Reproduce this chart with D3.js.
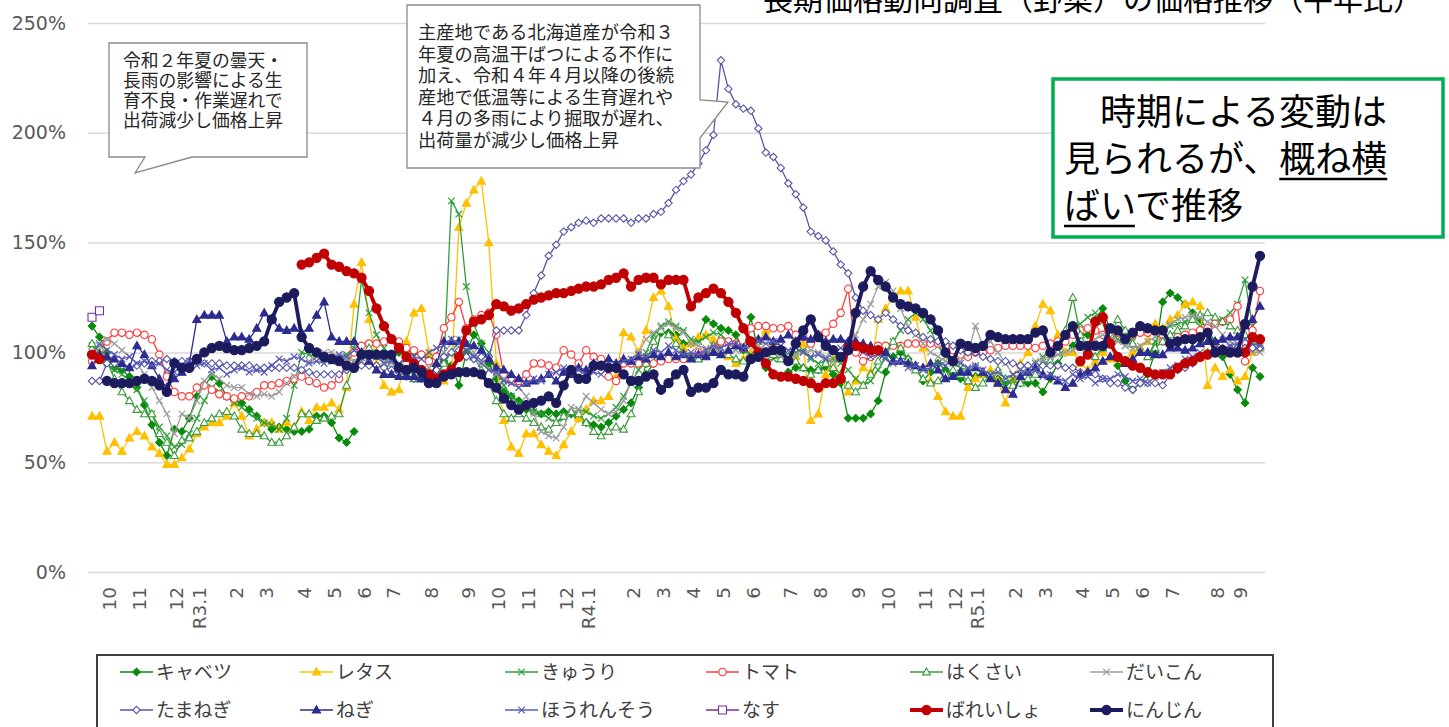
<!DOCTYPE html>
<html>
<head>
<meta charset="utf-8">
<title>長期価格動向調査（野菜）の価格推移</title>
<style>
body { margin: 0; background: #fff; }
text { font-family: "Noto Sans CJK JP", "Noto Sans", sans-serif; }
.yaxis text, .xaxis text { font-family: "DejaVu Sans", sans-serif; fill: #595959; }
</style>
</head>
<body>
<script src="https://cdn.jsdelivr.net/npm/d3@7"></script>
<script>

// ---- data (percent of normal year), one value per week ----
var monthLabels = ["10","11","12","R3.1","2","3","4","5","6","7","8","9",
                   "10","11","12","R4.1","2","3","4","5","6","7","8","9",
                   "10","11","12","R5.1","2","3","4","5","6","7","8","9"];
// week index at which each month label sits
var monthWeek = [2,6,11,14,19,23,28,32,36,40,45,50,54,58,63,66,72,76,80,84,88,93,97,102,
                 106,111,115,118,123,127,132,136,140,144,150,153];

var yTicks = [0, 50, 100, 150, 200, 250];

var cabbage = [
  112,107,100,93,92,89,84,76,67,59,
  53,65,64,70,80,85,89,86,80,78,
  77,74,71,68,65,66,65,64,64,65,
  71,71,68,61,59,64,null,null,null,null,
  null,100,101,100,99,97,98,96,94,85,
  100,108,104,95,88,82,80,78,74,73,
  72,73,72,73,72,70,68,67,66,68,
  71,74,77,84,90,95,109,109,108,104,
  104,106,115,113,111,110,108,101,116,100,
  93,90,89,91,93,93,92,92,93,90,
  86,70,70,70,72,78,91,98,100,97,
  93,87,91,95,92,90,88,86,89,90,
  89,88,86,87,86,86,86,82,88,95,
  100,103,108,108,115,120,110,94,87,83,
  86,90,100,123,127,125,122,118,115,110,
  105,98,90,83,77,93,89];

var lettuce = [
  71,71,55,59,55,61,64,62,57,54,
  49,49,52,56,63,66,68,68,71,77,
  71,62,65,68,68,65,68,66,73,69,
  75,75,77,74,84,122,141,115,95,85,
  82,83,105,118,120,100,88,87,90,157,
  168,174,178,150,95,69,57,54,63,63,
  58,55,53,58,64,70,74,78,78,80,
  89,109,107,100,110,125,128,121,106,102,
  104,107,108,106,100,98,95,97,100,105,
  110,104,100,96,98,104,69,72,90,97,
  88,82,87,93,91,115,120,125,128,128,
  116,102,87,80,73,71,71,84,88,90,
  92,87,77,88,95,100,112,122,119,108,
  100,100,95,92,96,100,97,97,95,100,
  102,105,113,111,115,117,122,123,121,85,
  93,89,92,87,89,100,102];

var cucumber = [
  103,99,95,92,90,87,83,78,72,66,
  62,57,58,63,70,78,84,82,80,77,
  75,72,70,68,67,65,70,85,100,99,
  98,97,96,97,99,102,133,118,108,102,
  97,93,91,90,88,87,88,95,169,163,
  130,113,104,100,92,85,80,77,75,73,
  72,70,68,70,72,74,73,71,70,72,
  75,80,86,92,100,108,112,114,112,110,
  106,105,107,109,108,105,103,101,99,98,
  96,97,98,99,100,101,97,95,96,97,
  95,92,88,85,87,92,98,105,110,115,
  118,115,110,103,98,95,93,92,93,90,
  88,86,85,88,90,92,95,98,100,104,
  106,110,113,116,118,114,110,106,103,105,
  100,98,105,110,112,113,114,115,112,110,
  113,115,118,122,133,112,102];

var tomato = [
  96,101,105,109,109,108,109,108,106,99,
  89,82,80,80,84,85,83,81,80,79,
  80,80,82,85,85,86,87,88,89,87,
  86,84,85,88,95,100,103,104,104,105,
  106,105,102,101,99,96,98,111,116,123,
  111,115,117,118,108,90,87,87,90,95,
  95,94,93,101,99,95,101,98,97,89,
  87,95,95,95,95,95,96,97,97,97,
  98,100,100,102,105,105,104,102,111,112,
  112,111,111,112,108,107,104,108,109,113,
  118,129,100,96,98,103,103,103,103,104,
  104,104,104,104,103,101,99,98,100,100,
  101,102,103,103,103,103,102,103,104,105,
  105,108,110,111,110,108,110,109,107,108,
  109,109,110,105,106,107,108,109,110,111,
  113,114,115,121,96,110,128];

var hakusai = [
  104,100,96,88,82,78,74,72,72,63,
  59,53,60,61,64,68,70,72,73,71,
  65,63,63,62,59,59,62,66,72,72,
  69,70,71,72,85,95,100,102,100,98,
  95,92,90,88,88,88,90,95,100,105,
  103,98,92,86,78,72,70,72,70,68,
  66,65,68,71,73,72,68,64,62,64,
  66,65,72,82,95,105,110,108,104,100,
  98,97,99,103,101,99,97,96,97,99,
  100,99,97,98,96,93,90,92,95,93,
  90,85,82,85,90,96,100,105,102,97,
  92,88,86,87,90,92,90,87,84,86,
  90,92,88,85,86,88,90,95,96,100,
  110,125,108,102,98,102,108,115,110,104,
  100,98,102,105,108,110,112,115,117,118,
  116,114,112,110,108,105,103];

var daikon = [
  100,103,106,104,101,98,95,90,84,78,
  72,63,72,70,78,87,90,88,85,84,
  84,81,80,81,80,82,86,89,92,96,
  98,100,100,98,97,96,96,97,98,96,
  95,94,93,92,92,93,96,100,104,106,
  104,100,96,92,90,88,86,84,80,72,
  64,62,61,66,75,74,80,77,74,72,
  73,78,87,100,106,109,111,113,111,109,
  104,103,102,101,100,100,101,103,104,103,
  101,100,98,97,99,100,101,100,98,96,
  98,102,108,115,122,130,132,128,120,112,
  108,104,100,98,96,95,96,100,112,103,
  105,100,95,90,88,92,96,97,98,99,
  100,101,102,104,106,108,107,105,103,102,
  103,105,107,110,113,115,116,117,116,114,
  112,108,105,103,101,100,100];

var onion = [
  87,87,95,95,94,93,94,95,96,96,
  97,96,96,96,96,95,95,95,94,94,
  94,94,93,93,93,93,93,93,92,91,
  90,90,90,90,92,93,94,94,94,93,
  92,91,89,88,88,90,92,98,100,101,
  98,97,98,98,110,110,110,110,117,127,
  135,144,149,155,157,159,160,159,161,161,
  161,161,159,161,161,163,164,168,174,178,
  181,186,192,199,233,220,213,211,210,202,
  191,189,184,177,172,166,155,153,151,146,
  140,136,125,119,117,115,118,115,112,110,
  109,107,106,105,105,103,101,100,100,98,
  97,96,96,95,94,94,94,94,94,94,
  93,93,91,91,90,88,86,86,84,83,
  86,86,86,85,90,92,93,95,98,100,
  101,102,102,102,102,102,102];

var negi = [
  94,99,98,97,95,93,103,99,94,88,
  84,88,91,95,115,117,117,117,105,107,
  107,106,111,118,115,111,110,111,109,111,
  117,123,107,105,105,105,100,96,92,90,
  90,89,89,89,88,88,95,105,105,105,
  104,103,101,97,93,92,90,88,86,87,
  88,90,87,91,90,93,92,95,94,97,
  95,97,96,98,97,99,98,100,98,99,
  97,99,98,100,99,101,103,102,105,106,
  107,105,106,108,105,107,106,108,105,106,
  106,105,105,104,103,101,100,96,96,95,
  94,93,95,92,88,89,91,91,93,91,
  88,86,83,81,89,91,93,90,89,87,
  84,86,90,91,93,96,98,98,95,97,
  100,100,99,99,102,102,101,102,104,105,
  105,106,107,107,112,115,121];

var spinach = [
  99,104,101,99,97,98,95,96,94,95,
  92,91,94,96,94,95,92,93,90,92,
  93,91,92,91,94,97,96,98,97,95,
  96,95,97,99,98,101,99,97,98,95,
  96,95,97,98,97,100,102,103,106,104,
  101,98,95,92,91,87,86,84,86,88,
  87,90,91,93,92,92,90,91,90,93,
  94,96,97,99,98,101,100,103,101,99,
  100,99,101,103,102,104,104,102,103,105,
  104,105,103,101,102,100,98,99,97,100,
  102,101,103,100,98,99,97,95,96,93,
  94,92,93,95,94,97,95,93,94,92,
  90,91,88,90,92,91,92,89,90,88,
  87,90,88,89,86,88,88,90,89,87,
  88,86,89,91,93,94,97,98,100,99,
  102,101,103,104,106,104,103];

var eggplant = [116, 119];

var potato = [
  99,97,null,null,null,null,null,null,null,null,
  null,null,null,null,null,null,null,null,null,null,
  null,null,null,null,null,null,null,null,140,141,
  143,145,140,139,137,136,134,128,120,112,
  106,102,98,95,92,90,88,90,92,98,
  110,114,115,117,122,121,119,120,122,124,
  125,126,127,127,128,129,130,130,131,133,
  134,136,130,133,134,134,131,133,133,133,
  121,125,127,129,127,123,118,111,105,100,
  95,90,89,89,88,87,86,84,86,86,
  88,102,103,102,101,101,null,null,null,null,
  null,null,null,null,null,null,null,null,null,null,
  null,null,null,null,null,null,null,null,null,null,
  null,null,96,99,114,116,104,98,96,94,
  93,91,90,90,90,93,95,96,98,99,
  100,101,100,100,100,107,106];

var carrot = [
  null,null,87,86,86,86,87,88,87,85,
  82,95,93,93,97,100,102,103,102,101,
  101,102,103,105,115,123,125,127,107,102,
  100,98,97,96,94,93,99,99,99,99,
  99,93,92,93,91,86,86,89,90,91,
  91,91,90,86,84,79,76,74,76,77,
  78,80,77,85,92,88,88,94,94,93,
  93,90,87,87,89,90,83,86,90,92,
  82,84,84,86,92,90,90,89,97,98,
  100,101,101,96,104,110,115,107,103,101,
  98,101,118,130,137,133,130,125,122,121,
  120,118,115,110,100,96,104,103,102,103,
  108,107,106,106,106,106,109,110,100,103,
  108,112,103,103,103,103,111,110,106,109,
  112,111,110,110,104,105,106,106,107,109,
  100,101,100,100,113,130,144];

var seriesNames = ["キャベツ","レタス","きゅうり","トマト","はくさい","だいこん",
                   "たまねぎ","ねぎ","ほうれんそう","なす","ばれいしょ","にんじん"];
var seriesValues = [cabbage, lettuce, cucumber, tomato, hakusai, daikon,
                    onion, negi, spinach, eggplant, potato, carrot];

// drawing style for each series
var styles = [
  {color:"#0a8a0a", mk:"diamond",  open:false, r:3.8, w:1.3},
  {color:"#ffc000", mk:"triangle", open:false, r:4.3, w:1.3},
  {color:"#2f9e3a", mk:"x",        open:false, r:3.3, w:1.3},
  {color:"#ff3b3b", mk:"circle",   open:true,  r:3.7, w:1.3},
  {color:"#3c9a3c", mk:"triangle", open:true,  r:4.1, w:1.3},
  {color:"#9c9c9c", mk:"x",        open:false, r:3.3, w:1.3},
  {color:"#5656a8", mk:"diamond",  open:true,  r:3.7, w:1.3},
  {color:"#2b2b90", mk:"triangle", open:false, r:4.3, w:1.3},
  {color:"#5a5ab8", mk:"x",        open:false, r:3.3, w:1.3},
  {color:"#7030a0", mk:"square",   open:true,  r:4.0, w:1.3},
  {color:"#c00000", mk:"circle",   open:false, r:4.6, w:3.8},
  {color:"#1b1b5e", mk:"circle",   open:false, r:4.6, w:3.8}
];

function shapePath(type, r) {
  if (type === "diamond") return "M0," + (-r) + "L" + r + ",0L0," + r + "L" + (-r) + ",0Z";
  if (type === "triangle") return "M0," + (-r) + "L" + (r * 0.95) + "," + (r * 0.7) + "L" + (-r * 0.95) + "," + (r * 0.7) + "Z";
  if (type === "x") return "M" + (-r) + "," + (-r) + "L" + r + "," + r + "M" + r + "," + (-r) + "L" + (-r) + "," + r;
  if (type === "square") return "M" + (-r) + "," + (-r) + "h" + (2 * r) + "v" + (2 * r) + "h" + (-2 * r) + "Z";
  return d3.symbol().type(d3.symbolCircle).size(Math.PI * r * r)();
}

var width = 1449, height = 727;

var svg = d3.select("body").append("svg")
    .attr("width", width)
    .attr("height", height);

var x = d3.scaleLinear().domain([0, 156]).range([92, 1260]);
var y = d3.scaleLinear().domain([0, 250]).range([572, 23]);

// title (cut off at the top of the slide, as in the original)
svg.append("text")
    .attr("x", 763)
    .attr("y", 10)
    .style("font-size", "30px")
    .attr("fill", "#000")
    .text("長期価格動向調査（野菜）の価格推移（平年比）");

// y axis with gridlines
var yAxis = svg.append("g")
    .attr("class", "yaxis")
    .attr("transform", "translate(88,0)")
    .call(d3.axisLeft(y).tickValues(yTicks).tickFormat(function(d) { return d + "%"; })
          .tickSize(-1177).tickPadding(22));
yAxis.select(".domain").remove();
yAxis.selectAll("line").attr("stroke", "#d9d9d9").attr("stroke-width", 1.5);
yAxis.selectAll("text").style("font-size", "19px");

// x axis month labels (rotated)
var xAxis = svg.append("g")
    .attr("class", "xaxis")
    .attr("transform", "translate(2,572)")
    .call(d3.axisBottom(x).tickValues(monthWeek)
          .tickFormat(function(d, i) { return monthLabels[i]; }).tickSize(0));
xAxis.select(".domain").remove();
xAxis.selectAll("text")
    .attr("transform", "rotate(-90)")
    .attr("x", -15)
    .attr("y", 0)
    .attr("dy", "0.35em")
    .attr("text-anchor", "end")
    .style("font-size", "18.5px");

// series
var line = d3.line()
    .defined(function(d) { return d != null; })
    .x(function(d, i) { return x(i); })
    .y(function(d) { return y(d); });

seriesValues.forEach(function(vals, k) {
  var st = styles[k];
  var g = svg.append("g").attr("class", "series");
  g.append("path")
      .attr("d", line(vals))
      .attr("fill", "none")
      .attr("stroke", st.color)
      .attr("stroke-width", st.w)
      .attr("stroke-linejoin", "round");
  var pts = [];
  vals.forEach(function(v, i) { if (v != null) pts.push({i: i, v: v}); });
  g.selectAll("path.mk")
      .data(pts)
      .enter().append("path")
      .attr("class", "mk")
      .attr("transform", function(d) { return "translate(" + x(d.i) + "," + y(d.v) + ")"; })
      .attr("d", shapePath(st.mk, st.r))
      .attr("fill", st.mk === "x" ? "none" : (st.open ? "#fff" : st.color))
      .attr("stroke", st.color)
      .attr("stroke-width", st.mk === "x" ? 1.2 : 1.1);
});

// callout boxes: one text element per box, lines as tspans
function callout(path, lines, tx, ty, lh, fs) {
  svg.append("path")
      .attr("d", path)
      .attr("fill", "#fff").attr("stroke", "#8a8a8a").attr("stroke-width", 1.3);
  var t = svg.append("text")
      .style("font-size", fs + "px")
      .attr("fill", "#262626");
  t.selectAll("tspan").data(lines).enter().append("tspan")
      .attr("x", tx)
      .attr("y", function(d, i) { return ty + i * lh; })
      .text(function(d) { return d; });
}

callout("M109,43H307V157H192L135,173L145,157H109Z",
        ["令和２年夏の曇天・", "長雨の影響による生", "育不良・作業遅れで", "出荷減少し価格上昇"],
        123, 67, 20, 17.8);

callout("M407,5H700V100L728,102L700,138V168H407Z",
        ["主産地である北海道産が令和３", "年夏の高温干ばつによる不作に", "加え、令和４年４月以降の後続",
         "産地で低温等による生育遅れや", "４月の多雨により掘取が遅れ、", "出荷量が減少し価格上昇"],
        418, 39, 21.6, 18.3);

// green summary box
svg.append("rect")
    .attr("x", 1053).attr("y", 79).attr("width", 390).attr("height", 158)
    .attr("fill", "#fff").attr("stroke", "#00b050").attr("stroke-width", 3.5);
var boxLines = [
  {t: "　時期による変動は", u: null},
  {t: "見られるが、概ね横", u: [6, 8]},
  {t: "ばいで推移", u: [0, 1]}
];
var boxText = svg.append("text")
    .style("font-size", "36px")
    .attr("fill", "#000");
boxLines.forEach(function(bl, i) {
  boxText.append("tspan")
      .attr("x", 1064)
      .attr("y", 125 + i * 47)
      .text(bl.t);
});
// underlines under 「概ね横」 and 「ばい」
var offset = 0;
boxLines.forEach(function(bl, i) {
  if (bl.u) {
    var node = boxText.node();
    var x1 = node.getStartPositionOfChar(offset + bl.u[0]).x;
    var x2 = node.getEndPositionOfChar(offset + bl.u[1]).x;
    svg.append("line")
        .attr("x1", x1).attr("x2", x2)
        .attr("y1", 125 + i * 47 + 7).attr("y2", 125 + i * 47 + 7)
        .attr("stroke", "#000").attr("stroke-width", 2.5);
  }
  offset += bl.t.length;
});

// legend
var legend = svg.append("g");
legend.append("rect")
    .attr("x", 97).attr("y", 655).attr("width", 1176).attr("height", 90)
    .attr("fill", "#fff").attr("stroke", "#404040").attr("stroke-width", 2);
var legCols = [120, 300, 505, 706, 910, 1090];
seriesNames.forEach(function(name, k) {
  var st = styles[k];
  var lx = legCols[k % 6], ly = k < 6 ? 672 : 710;
  var g = legend.append("g");
  g.append("line")
      .attr("x1", lx).attr("x2", lx + 33).attr("y1", ly).attr("y2", ly)
      .attr("stroke", st.color).attr("stroke-width", st.w);
  g.append("path")
      .attr("transform", "translate(" + (lx + 16.5) + "," + ly + ")")
      .attr("d", shapePath(st.mk, st.r))
      .attr("fill", st.mk === "x" ? "none" : (st.open ? "#fff" : st.color))
      .attr("stroke", st.color)
      .attr("stroke-width", st.mk === "x" ? 1.2 : 1.1);
  g.append("text")
      .attr("x", lx + 36)
      .attr("y", ly + 7)
      .style("font-size", "19px")
      .attr("fill", "#404040")
      .text(name);
});

</script>
</body>
</html>
